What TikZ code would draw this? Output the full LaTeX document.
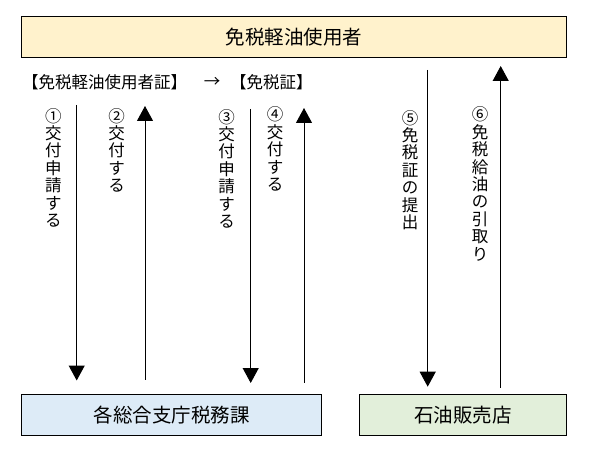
\documentclass[tikz,border=0pt]{standalone}
\usepackage{fontspec}
\newfontfamily\jp{Noto Sans CJK JP}
\usetikzlibrary{arrows.meta}
\definecolor{boxgold}{HTML}{FFF2CC}
\definecolor{boxblue}{HTML}{DDEBF7}
\definecolor{boxgreen}{HTML}{E2EFDA}
\begin{document}
\begin{tikzpicture}[x=1pt,y=-1pt,
  box/.style={draw=black, line width=1pt, inner sep=0pt, font=\jp\fontsize{19.5}{22}\selectfont},
  vlab/.style={anchor=north, align=center, inner sep=0pt, font=\jp\fontsize{16.5}{17.4}\selectfont},
  hlab/.style={inner sep=0pt, font=\jp\fontsize{16.5}{20}\selectfont},
  flow/.style={line width=1pt, -{Triangle[width=16pt,length=15pt]}}]
\useasboundingbox (0,0) rectangle (593,454);
% boxes
\node[box, fill=boxgold, minimum width=545.4pt, minimum height=41pt] (user) at (294,36.8) {免税軽油使用者};
\node[box, fill=boxblue, minimum width=300.2pt, minimum height=41.3pt] (office) at (171.6,414.7) {各総合支庁税務課};
\node[box, fill=boxgreen, minimum width=207.7pt, minimum height=41.3pt] (shop) at (462.9,414.7) {石油販売店};
% header line
\node[hlab, anchor=west] (cert1) at (22,82.7) {【免税軽油使用者証】};
\node[hlab] (arr) at (212,82.7) {→};
\node[hlab, anchor=west] (cert2) at (230,82.7) {【免税証】};
% arrow end points
\coordinate (a1s) at (76.7,105);   \coordinate (a1e) at (76.7,380.5);
\coordinate (a2s) at (145,379.5);  \coordinate (a2e) at (145,106);
\coordinate (a3s) at (250.7,109);  \coordinate (a3e) at (250.7,383);
\coordinate (a4s) at (304,382.7);  \coordinate (a4e) at (304,108);
\coordinate (a5s) at (427.7,70);   \coordinate (a5e) at (427.7,386.7);
\coordinate (a6s) at (500.7,387.5); \coordinate (a6e) at (500.7,66);
\draw[flow] (a1s) -- (a1e);
\draw[flow] (a2s) -- (a2e);
\draw[flow] (a3s) -- (a3e);
\draw[flow] (a4s) -- (a4e);
\draw[flow] (a5s) -- (a5e);
\draw[flow] (a6s) -- (a6e);
% vertical labels
\node[vlab] (l1) at (53.3,108) {①\\交\\付\\申\\請\\す\\る};
\node[vlab] (l2) at (116.7,108) {②\\交\\付\\す\\る};
\node[vlab] (l3) at (226.7,109) {③\\交\\付\\申\\請\\す\\る};
\node[vlab] (l4) at (275,106.7) {④\\交\\付\\す\\る};
\node[vlab] (l5) at (410,110) {⑤\\免\\税\\証\\の\\提\\出};
\node[vlab] (l6) at (480,106.7) {⑥\\免\\税\\給\\油\\の\\引\\取\\り};
\end{tikzpicture}
\end{document}
